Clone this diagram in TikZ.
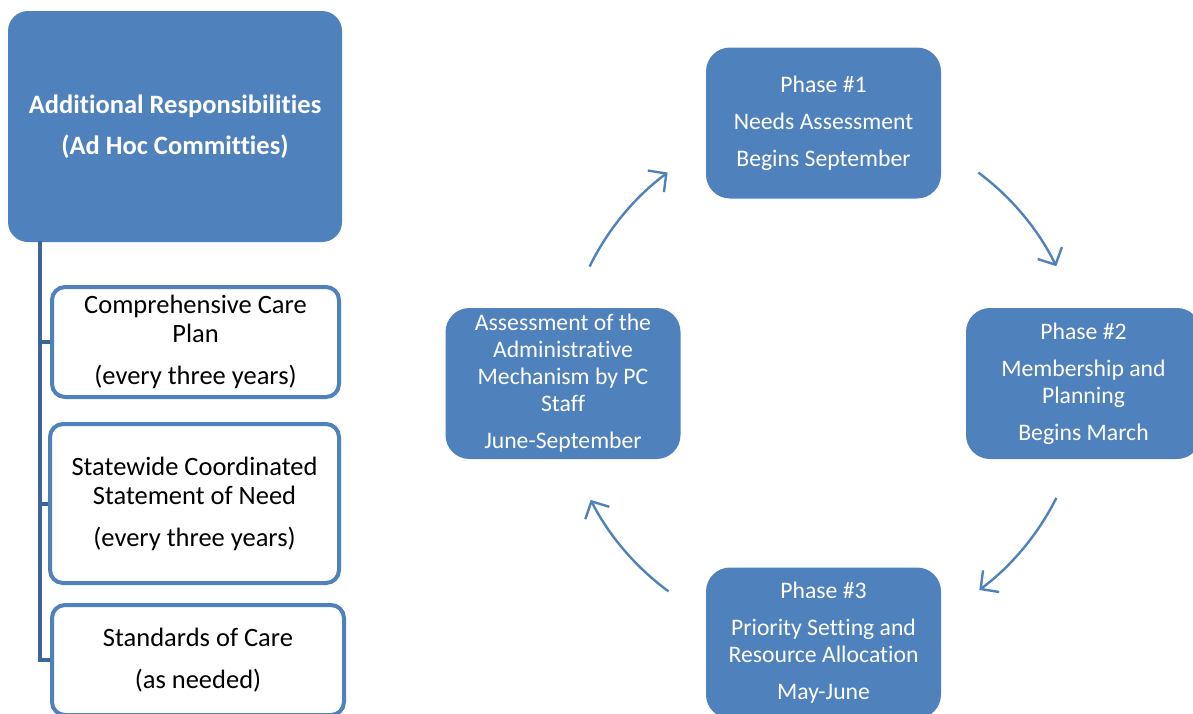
\documentclass[tikz,border=0pt]{standalone}
\usepackage{fontspec}
\setmainfont{Carlito}[Ligatures=NoCommon]
\usetikzlibrary{arrows.meta}
\definecolor{accent}{RGB}{79,129,189}
\definecolor{spinecol}{RGB}{62,101,152}
\tikzset{
  phasebox/.style={fill=accent, draw=none, rounded corners=24pt, minimum width=235pt, minimum height=151pt, inner sep=0pt, text=white, align=center, font=\fontsize{23.7}{27}\selectfont},
  headbox/.style={fill=accent, draw=none, rounded corners=20pt, minimum width=334pt, minimum height=231pt, inner sep=0pt, text=white, align=center, font=\fontsize{26.5}{28}\selectfont\bfseries},
  itembox/.style={fill=white, draw=accent, line width=4pt, rounded corners=13pt, inner sep=0pt, text=black, align=center, font=\fontsize{26.5}{29}\selectfont},
  spine/.style={draw=spinecol, line width=4pt},
  cyc/.style={draw=accent, line width=2.4pt, -{Straight Barb[length=13pt,width=27pt,line width=2.4pt]}}
}
\begin{document}
\begin{tikzpicture}[x=1pt,y=-1pt]
\useasboundingbox (0,0) rectangle (1193,713);
\clip (0,0) rectangle (1193,713);
% left column
\node[headbox] (head) at (175,126.5) {Additional Responsibilities\\[13pt](Ad Hoc Committies)};
\node[itembox, minimum width=287pt, minimum height=110pt] (b1) at (195.5,342) {Comprehensive Care\\Plan\\[13pt](every three years)};
\node[itembox, minimum width=289pt, minimum height=159pt] (b2) at (194.5,503.5) {Statewide Coordinated\\Statement of Need\\[13pt](every three years)};
\node[itembox, minimum width=292pt, minimum height=110pt] (b3) at (198,660) {Standards of Care\\[13pt](as needed)};
\coordinate (sp) at (40,241);
\draw[spine] (sp) |- (b3.west);
\draw[spine] (sp |- b1.west) -- (b1.west);
\draw[spine] (sp |- b2.west) -- (b2.west);
% cycle
\node[phasebox] (p1) at (823.5,123) {Phase \#1\\[10pt]Needs Assessment\\[10pt]Begins September};
\node[phasebox] (p2) at (1083.5,383.5) {Phase \#2\\[10pt]Membership and\\Planning\\[10pt]Begins March};
\node[phasebox] (p3) at (823.5,643) {Phase \#3\\[10pt]Priority Setting and\\Resource Allocation\\[10pt]May-June};
\node[phasebox] (p4) at (563,383.5) {Assessment of the\\Administrative\\Mechanism by PC\\Staff\\[10pt]June-September};
\coordinate (ctr) at (823,381);
\draw[cyc] ([shift={(53.3:260pt)}]ctr) arc[start angle=53.3, end angle=26.2, radius=260pt];
\draw[cyc] ([shift={(-26.6:261pt)}]ctr) arc[start angle=-26.6, end angle=-53.2, radius=261pt];
\draw[cyc] ([shift={(-126.3:261pt)}]ctr) arc[start angle=-126.3, end angle=-152.9, radius=261pt];
\draw[cyc] ([shift={(153.9:260pt)}]ctr) arc[start angle=153.9, end angle=126.7, radius=260pt];
\end{tikzpicture}
\end{document}
